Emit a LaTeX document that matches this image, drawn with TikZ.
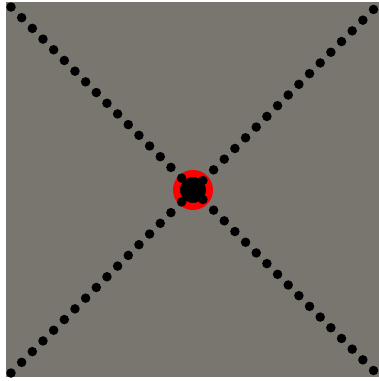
\documentclass[tikz,border=0pt]{standalone}
\begin{document}
\begin{tikzpicture}[x=1pt,y=-1pt,
  dotline/.style={line width=9.5pt, line cap=round, dash pattern=on 0pt off 15.1pt, black},
  hub/.style={circle, fill=black, draw=red, line width=7pt, minimum size=33pt, inner sep=0pt}]
\useasboundingbox (0,0) rectangle (379,381);
\definecolor{bggray}{RGB}{121,118,112}
\fill[bggray] (6,2) rectangle (379,377);
\coordinate (tl) at (11,7);
\coordinate (tr) at (376,7);
\coordinate (bl) at (11,373);
\coordinate (br) at (376,373);
\node[hub] (c) at (193,190) {};
\draw[dotline] (tl) -- (br);
\draw[dotline] (bl) -- (tr);
\end{tikzpicture}
\end{document}
